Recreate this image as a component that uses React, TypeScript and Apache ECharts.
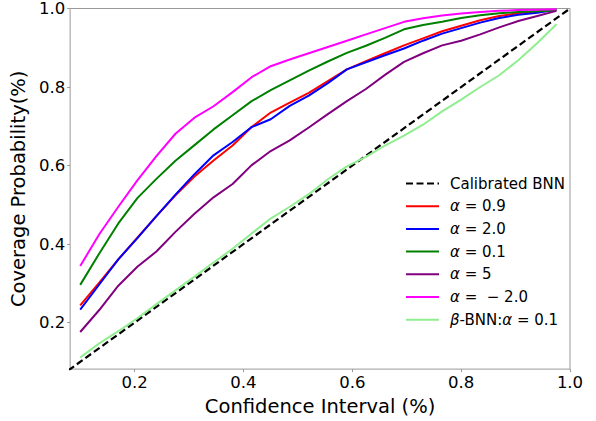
import React, { useEffect, useRef } from "react";
import * as echarts from "echarts";

const confidence = [0.1, 0.135, 0.17, 0.205, 0.24, 0.275, 0.31, 0.345, 0.38, 0.415, 0.45, 0.485, 0.52, 0.555, 0.59, 0.625, 0.66, 0.695, 0.73, 0.765, 0.8, 0.835, 0.87, 0.905, 0.94, 0.975];

const calibratedX = [0, 1];
const calibratedY = [0, 1];

const alpha09 = [0.244, 0.302, 0.361, 0.416, 0.471, 0.524, 0.572, 0.613, 0.651, 0.698, 0.735, 0.76, 0.785, 0.815, 0.845, 0.866, 0.886, 0.906, 0.924, 0.942, 0.956, 0.97, 0.981, 0.988, 0.993, 0.997];
const alpha20 = [0.233, 0.297, 0.361, 0.415, 0.471, 0.526, 0.578, 0.626, 0.66, 0.698, 0.718, 0.752, 0.778, 0.81, 0.845, 0.863, 0.881, 0.898, 0.918, 0.936, 0.95, 0.964, 0.976, 0.984, 0.989, 0.997];
const alpha01 = [0.296, 0.376, 0.4525, 0.517, 0.566, 0.612, 0.652, 0.692, 0.728, 0.764, 0.792, 0.817, 0.842, 0.865, 0.887, 0.905, 0.925, 0.947, 0.958, 0.966, 0.976, 0.983, 0.988, 0.991, 0.993, 0.995];
const alpha5 = [0.176, 0.232, 0.294, 0.342, 0.381, 0.431, 0.477, 0.519, 0.553, 0.601, 0.637, 0.664, 0.697, 0.731, 0.764, 0.795, 0.831, 0.864, 0.886, 0.906, 0.918, 0.934, 0.952, 0.968, 0.981, 0.994];
const alphaNeg2 = [0.344, 0.425, 0.495, 0.562, 0.624, 0.681, 0.722, 0.751, 0.787, 0.825, 0.853, 0.87, 0.886, 0.902, 0.918, 0.934, 0.95, 0.966, 0.975, 0.982, 0.987, 0.991, 0.994, 0.996, 0.997, 0.998];
const betaBnn = [0.111, 0.147, 0.178, 0.211, 0.247, 0.282, 0.317, 0.353, 0.388, 0.427, 0.465, 0.495, 0.527, 0.565, 0.598, 0.622, 0.651, 0.676, 0.704, 0.738, 0.768, 0.8, 0.83, 0.868, 0.912, 0.96];

const tickValues = [0.2, 0.4, 0.6, 0.8, 1.0];

const seriesNames = ["Calibrated BNN", "α = 0.9", "α = 2.0", "α = 0.1", "α = 5", "α = −2.0", "β-BNN:α = 0.1"];
const legendLabels: Record<string, string> = {
  "Calibrated BNN": "Calibrated BNN",
  "α = 0.9": "{i|α} = 0.9",
  "α = 2.0": "{i|α} = 2.0",
  "α = 0.1": "{i|α} = 0.1",
  "α = 5": "{i|α} = 5",
  "α = −2.0": "{i|α} =  − 2.0",
  "β-BNN:α = 0.1": "{i|β}-BNN:{i|α} = 0.1",
};
const colors = ["#000000", "#ff0000", "#0000ff", "#008000", "#800080", "#ff00ff", "#90ee90"];

const FONT = "DejaVu Sans";

export default function App() {
  const ref = useRef<HTMLDivElement>(null);
  useEffect(() => {
    document.body.style.margin = "0";
    const chart = echarts.init(ref.current!, null, { renderer: "svg" });
    const pairs = (ys: number[]) => confidence.map((x, i) => [x, ys[i]]);
    const lines = [alpha09, alpha20, alpha01, alpha5, alphaNeg2, betaBnn];
    const series: any[] = [
      {
        name: seriesNames[0],
        type: "line",
        data: calibratedX.map((x, i) => [x, calibratedY[i]]),
        symbol: "none",
        clip: true,
        lineStyle: { color: colors[0], width: 2.2, type: [7, 3.5] },
        itemStyle: { color: colors[0] },
        z: 2,
      },
      ...lines.map((ys, k) => ({
        name: seriesNames[k + 1],
        type: "line",
        data: pairs(ys),
        symbol: "none",
        lineStyle: { color: colors[k + 1], width: 2 },
        itemStyle: { color: colors[k + 1] },
        z: 3 + k,
      })),
    ];
    const axisCommon = {
      type: "value",
      min: 0.0815,
      max: 1.0,
      splitLine: { show: false },
      axisLine: { show: false },
      axisTick: { show: true, customValues: tickValues, length: 3, lineStyle: { color: "#999" } },
      axisLabel: {
        customValues: tickValues,
        showMinLabel: true,
        showMaxLabel: true,
        formatter: (v: number) => v.toFixed(1),
        color: "#000",
        fontFamily: FONT,
        fontSize: 16.5,
      },
      nameLocation: "middle",
      nameTextStyle: { color: "#000", fontFamily: FONT, fontSize: 19.5 },
    };
    const legends = seriesNames.map((n, k) => ({
      orient: "vertical",
      left: 405,
      top: 176 + k * 22.7,
      padding: 0,
      itemWidth: 33,
      itemHeight: 14,
      data: [n],
      itemStyle: { opacity: 0, color: "transparent", borderColor: "transparent", borderWidth: 0 },
      formatter: (name: string) => legendLabels[name] ?? name,
      textStyle: {
        color: "#000",
        fontFamily: FONT,
        fontSize: 15,
        lineHeight: 14,
        padding: [0, 0, 0, 6],
        rich: {
          i: { fontStyle: "italic", fontFamily: FONT, fontSize: 15, color: "#000", lineHeight: 14 },
        },
      },
    }));
    chart.setOption({
      animation: false,
      backgroundColor: "#ffffff",
      grid: {
        left: 67.7,
        top: 7.3,
        width: 502.3,
        height: 367.4,
        show: true,
        borderColor: "#999",
        borderWidth: 1,
        containLabel: false,
      },
      xAxis: {
        ...axisCommon,
        name: "Confidence Interval (%)",
        nameGap: 22,
        axisLabel: { ...axisCommon.axisLabel, margin: 5 },
      },
      yAxis: {
        ...axisCommon,
        name: "Coverage Probability(%)",
        nameGap: 32,
        axisLabel: { ...axisCommon.axisLabel, margin: 5 },
      },
      legend: legends,
      series,
    });
    return () => chart.dispose();
  }, []);
  return <div ref={ref} style={{ position: "fixed", left: 0, top: 0, width: 596, height: 421 }} />;
}
